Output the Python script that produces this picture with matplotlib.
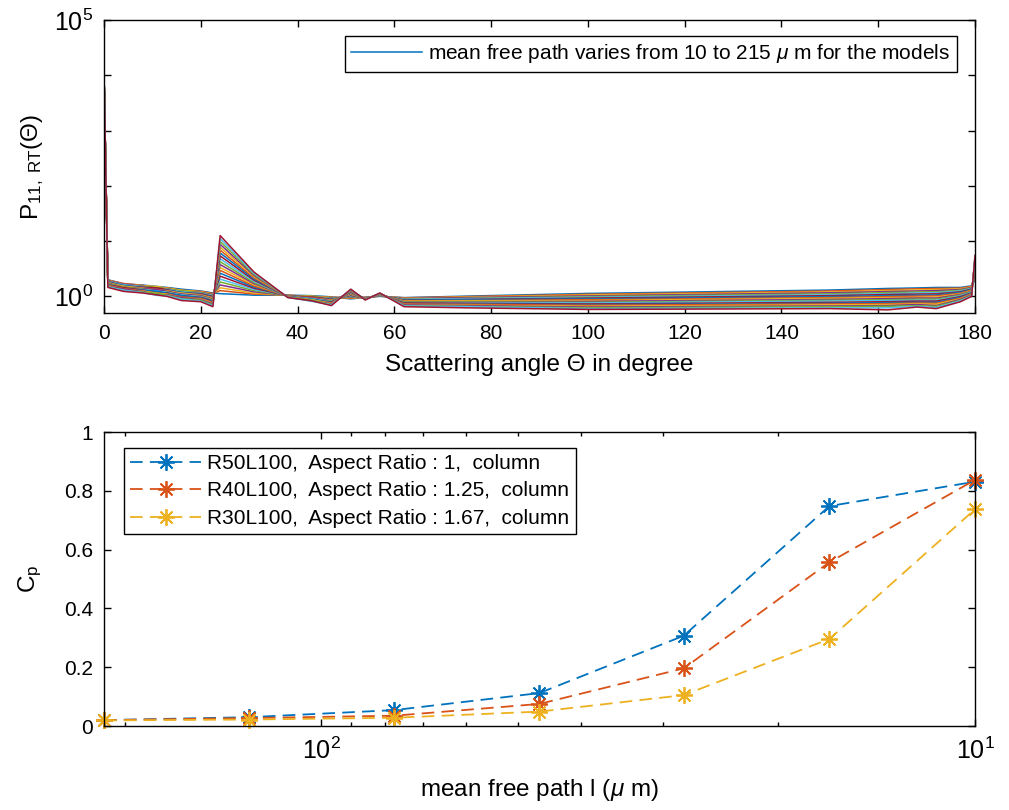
import numpy as np
import matplotlib
matplotlib.use("Agg")
import matplotlib.pyplot as plt
from matplotlib.ticker import FixedLocator, FuncFormatter, NullFormatter, NullLocator

plt.rcParams['font.family'] = ['Liberation Sans', 'DejaVu Sans']
plt.rcParams['mathtext.fontset'] = 'custom'
plt.rcParams['mathtext.rm'] = 'Liberation Sans'
plt.rcParams['mathtext.it'] = 'Liberation Sans:italic'

# --- top panel: P11 phase function, one curve per mean free path model ---
# each entry below is one scattering angle, with the value for the 21 models
theta_knots = [0, 0.8, 4, 8, 11, 13, 16, 20, 22.5, 24, 31, 38, 43, 47, 51, 54,
               57, 62, 75, 100, 150, 162, 168, 172, 177, 179.3, 180]

p11_cols = [
    [11000] * 21,
    [2.00, 1.97, 1.95, 1.92, 1.89, 1.86, 1.84, 1.81, 1.78, 1.75, 1.73, 1.70, 1.67, 1.64, 1.62, 1.59, 1.56, 1.53, 1.51, 1.48, 1.45],
    [1.68, 1.71, 1.64, 1.66, 1.59, 1.62, 1.55, 1.57, 1.50, 1.53, 1.46, 1.48, 1.41, 1.44, 1.37, 1.39, 1.32, 1.35, 1.28, 1.30, 1.23],
    [1.60, 1.58, 1.56, 1.53, 1.51, 1.49, 1.47, 1.44, 1.42, 1.40, 1.38, 1.35, 1.33, 1.31, 1.29, 1.26, 1.24, 1.22, 1.20, 1.17, 1.15],
    [1.51, 1.43, 1.51, 1.40, 1.44, 1.34, 1.42, 1.32, 1.33, 1.25, 1.32, 1.22, 1.25, 1.16, 1.24, 1.13, 1.14, 1.07, 1.13, 1.04, 1.06],
    [1.45, 1.43, 1.41, 1.38, 1.36, 1.34, 1.32, 1.29, 1.27, 1.25, 1.23, 1.20, 1.18, 1.16, 1.14, 1.11, 1.09, 1.07, 1.05, 1.02, 1.00],
    [1.35, 1.29, 1.29, 1.23, 1.26, 1.21, 1.17, 1.18, 1.13, 1.15, 1.10, 1.05, 1.06, 1.02, 1.04, 0.98, 0.94, 0.95, 0.91, 0.89, 0.84],
    [1.25, 1.23, 1.21, 1.18, 1.16, 1.14, 1.12, 1.09, 1.07, 1.05, 1.03, 1.00, 0.98, 0.96, 0.94, 0.91, 0.89, 0.87, 0.85, 0.82, 0.80],
    [1.15, 1.13, 1.10, 1.08, 1.05, 1.03, 1.00, 0.98, 0.95, 0.93, 0.90, 0.88, 0.85, 0.83, 0.80, 0.78, 0.75, 0.73, 0.70, 0.68, 0.65],
    [1.12, 1.27, 1.43, 1.61, 1.82, 2.05, 2.32, 2.62, 2.95, 3.33, 3.76, 4.24, 4.79, 5.40, 6.10, 6.88, 7.76, 8.76, 9.89, 11.16, 12.59],
    [1.05, 1.10, 1.15, 1.21, 1.27, 1.33, 1.40, 1.47, 1.54, 1.62, 1.70, 1.78, 1.87, 1.96, 2.06, 2.16, 2.27, 2.38, 2.50, 2.62, 2.75],
    [1.05, 1.05, 1.04, 1.04, 1.03, 1.03, 1.02, 1.02, 1.01, 1.01, 1.00, 1.00, 0.99, 0.99, 0.98, 0.98, 0.97, 0.97, 0.96, 0.96, 0.95],
    [1.03, 0.99, 1.01, 0.97, 0.99, 0.95, 0.97, 0.93, 0.95, 0.91, 0.93, 0.89, 0.91, 0.87, 0.89, 0.85, 0.87, 0.83, 0.85, 0.81, 0.83],
    [0.98, 0.97, 0.95, 0.94, 0.92, 0.91, 0.89, 0.88, 0.86, 0.85, 0.83, 0.82, 0.80, 0.79, 0.77, 0.76, 0.74, 0.73, 0.71, 0.70, 0.68],
    [0.90, 0.92, 0.95, 0.97, 0.99, 1.01, 1.04, 1.06, 1.08, 1.10, 1.13, 1.15, 1.17, 1.19, 1.22, 1.24, 1.26, 1.28, 1.31, 1.33, 1.35],
    [0.96, 0.96, 0.95, 0.95, 0.94, 0.94, 0.93, 0.93, 0.92, 0.92, 0.91, 0.91, 0.90, 0.90, 0.89, 0.89, 0.88, 0.88, 0.87, 0.87, 0.86],
    [1.00, 1.01, 1.02, 1.02, 1.03, 1.04, 1.05, 1.05, 1.06, 1.07, 1.08, 1.08, 1.09, 1.10, 1.11, 1.11, 1.12, 1.13, 1.14, 1.14, 1.15],
    [0.95, 0.94, 0.92, 0.91, 0.89, 0.88, 0.86, 0.85, 0.83, 0.82, 0.80, 0.79, 0.77, 0.76, 0.74, 0.73, 0.71, 0.70, 0.68, 0.67, 0.65],
    [1.01, 0.99, 0.97, 0.95, 0.92, 0.91, 0.88, 0.87, 0.84, 0.83, 0.80, 0.79, 0.77, 0.75, 0.73, 0.72, 0.69, 0.68, 0.66, 0.65, 0.62],
    [1.13, 1.09, 1.06, 1.02, 0.99, 0.96, 0.93, 0.90, 0.87, 0.84, 0.81, 0.78, 0.76, 0.73, 0.71, 0.69, 0.66, 0.64, 0.62, 0.60, 0.58],
    [1.30, 1.25, 1.20, 1.16, 1.11, 1.07, 1.03, 0.99, 0.95, 0.92, 0.88, 0.85, 0.82, 0.78, 0.75, 0.73, 0.70, 0.67, 0.65, 0.62, 0.60],
    [1.39, 1.33, 1.27, 1.22, 1.17, 1.12, 1.08, 1.03, 0.99, 0.95, 0.91, 0.87, 0.84, 0.80, 0.77, 0.74, 0.71, 0.68, 0.66, 0.62, 0.57],
    [1.42, 1.37, 1.31, 1.25, 1.20, 1.15, 1.10, 1.05, 1.01, 0.96, 0.93, 0.89, 0.85, 0.82, 0.78, 0.76, 0.73, 0.71, 0.68, 0.66, 0.64],
    [1.45, 1.39, 1.33, 1.27, 1.21, 1.16, 1.11, 1.06, 1.02, 0.97, 0.93, 0.89, 0.85, 0.82, 0.78, 0.75, 0.72, 0.68, 0.66, 0.63, 0.60],
    [1.45, 1.41, 1.37, 1.33, 1.29, 1.25, 1.21, 1.18, 1.14, 1.11, 1.08, 1.05, 1.02, 0.99, 0.96, 0.93, 0.90, 0.88, 0.85, 0.83, 0.80],
    [1.55, 1.52, 1.48, 1.45, 1.42, 1.39, 1.36, 1.33, 1.30, 1.27, 1.24, 1.22, 1.19, 1.16, 1.14, 1.11, 1.09, 1.07, 1.04, 1.02, 1.00],
    [2.00, 2.18, 2.35, 2.53, 2.70, 2.88, 3.05, 3.23, 3.40, 3.58, 3.75, 3.93, 4.10, 4.28, 4.45, 4.63, 4.80, 4.98, 5.15, 5.33, 5.50],
]
top_legend = r'mean free path varies from 10 to 215 $\mu$ m for the models'

# --- bottom panel: Cp against mean free path ---
mfp = [215, 129, 77.4, 46.4, 27.9, 16.7, 10]
cp_r50 = [0.020, 0.030, 0.054, 0.112, 0.307, 0.748, 0.831]
cp_r40 = [0.020, 0.027, 0.035, 0.075, 0.196, 0.557, 0.837]
cp_r30 = [0.019, 0.022, 0.028, 0.049, 0.105, 0.296, 0.737]
series_labels = ['R50L100,  Aspect Ratio : 1,  column',
                 'R40L100,  Aspect Ratio : 1.25,  column',
                 'R30L100,  Aspect Ratio : 1.67,  column']

matlab_colors = ['#0072BD', '#D95319', '#EDB120', '#7E2F8E',
                 '#77AC30', '#4DBEEE', '#A2142F']

fig = plt.figure(figsize=(10.09, 8.10), dpi=100)
ax1 = fig.add_axes([104 / 1009, 1 - 313 / 810, 871 / 1009, 293 / 810])
ax2 = fig.add_axes([104 / 1009, 1 - 726 / 810, 871 / 1009, 294 / 810])

p11 = np.array(p11_cols).T
for i, row in enumerate(p11):
    ax1.plot(theta_knots, row, color=matlab_colors[i % 7], lw=1.1,
             label=top_legend if i == 0 else None)

ax1.set_yscale('log')
ax1.set_xlim(0, 180)
ax1.set_ylim(0.5, 1e5)
ax1.xaxis.set_major_locator(FixedLocator(np.arange(0, 181, 20)))
ax1.yaxis.set_major_locator(FixedLocator([1e0, 1e1, 1e2, 1e3, 1e4, 1e5]))
ax1.yaxis.set_minor_locator(NullLocator())
ax1.yaxis.set_major_formatter(FuncFormatter(
    lambda v, p: r'$10^{%d}$' % round(np.log10(v)) if v in (1.0, 1e5) else ''))
ax1.set_xlabel('Scattering angle Θ in degree', fontsize=17.5, labelpad=8)
ax1.set_ylabel(r'P$_{11,\ \mathrm{RT}}$(Θ)', fontsize=17.5, labelpad=6)
leg1 = ax1.legend(loc='upper right', bbox_to_anchor=(0.979, 0.945),
                  borderaxespad=0, fontsize=15, fancybox=False,
                  framealpha=1, edgecolor='black', handlelength=3.4,
                  borderpad=0.3, handletextpad=0.3)
leg1.get_frame().set_linewidth(1.0)

star = (8, 2, 0)
for vals, col, lab in zip([cp_r50, cp_r40, cp_r30], matlab_colors[:3], series_labels):
    ax2.plot(mfp, vals, linestyle=(0, (7, 4)), color=col, lw=1.3,
             marker=star, markersize=12, markeredgewidth=1.3, label=lab,
             clip_on=False)

ax2.set_xscale('log')
ax2.set_xlim(215, 10)
ax2.set_ylim(0, 1)
ax2.yaxis.set_major_locator(FixedLocator([0, 0.2, 0.4, 0.6, 0.8, 1.0]))
ax2.yaxis.set_major_formatter(FuncFormatter(lambda v, p: '%g' % v))
ax2.xaxis.set_minor_formatter(NullFormatter())
ax2.set_xlabel(r'mean free path l ($\mu$ m)', fontsize=17.5, labelpad=10)
ax2.set_ylabel(r'C$_\mathrm{p}$', fontsize=17.5, labelpad=14)
leg2 = ax2.legend(loc='upper left', bbox_to_anchor=(0.023, 0.946),
                  borderaxespad=0, fontsize=15, fancybox=False,
                  framealpha=1, edgecolor='black', handlelength=3.4,
                  borderpad=0.3, handletextpad=0.3, labelspacing=0.4)
leg2.get_frame().set_linewidth(1.0)

for ax in (ax1, ax2):
    ax.tick_params(which='both', direction='in', top=True, right=True,
                   labelsize=15, width=1.0, pad=8)
    ax.tick_params(which='major', length=5)
    ax.tick_params(which='minor', length=3)
    for s in ax.spines.values():
        s.set_linewidth(1.0)
# the power-of-ten labels come out small in mathtext, so bump them up
ax1.tick_params(axis='y', labelsize=18)
ax2.tick_params(axis='x', labelsize=18)

fig.savefig('out.png', dpi=100)
